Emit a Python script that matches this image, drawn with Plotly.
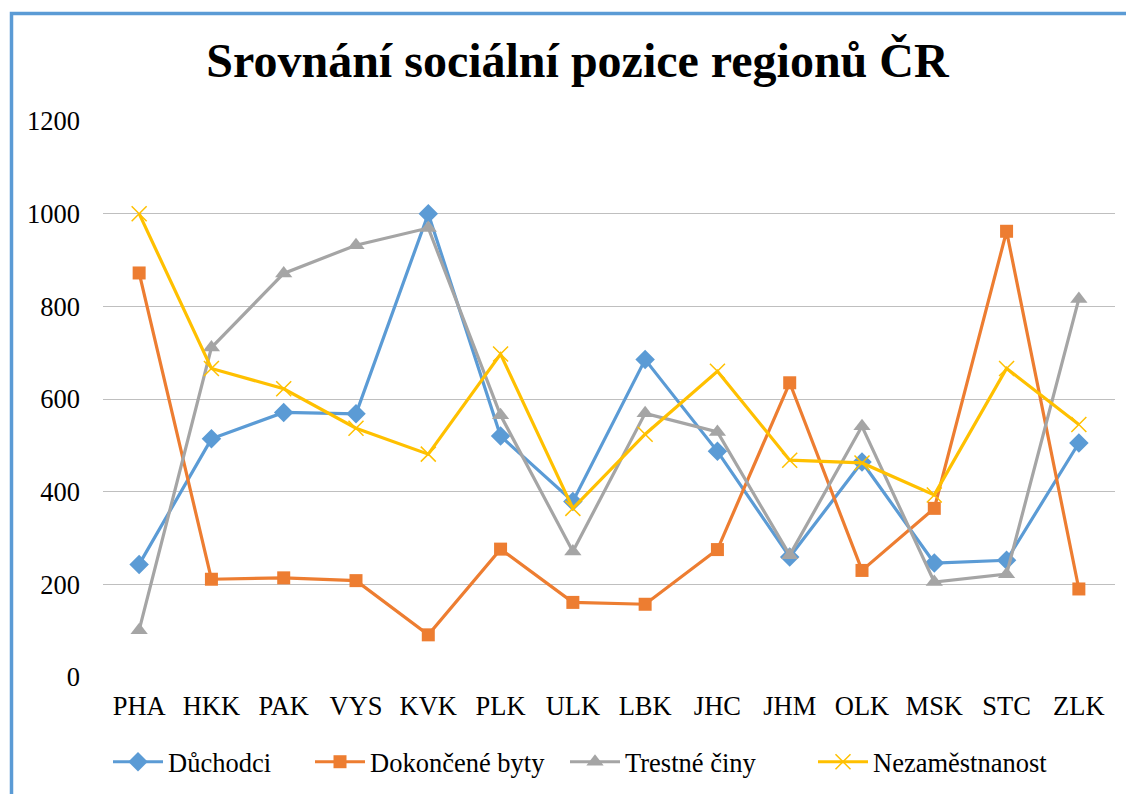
import plotly.graph_objects as go

categories = ["PHA", "HKK", "PAK", "VYS", "KVK", "PLK", "ULK", "LBK", "JHC", "JHM", "OLK", "MSK", "STC", "ZLK"]
duchodci = [243, 514, 571, 568, 1000, 520, 379, 685, 487, 259, 464, 246, 252, 505]
dokoncene_byty = [872, 211, 214, 208, 91, 276, 161, 157, 275, 635, 230, 364, 962, 190]
trestne_ciny = [101, 711, 871, 932, 969, 565, 271, 569, 529, 263, 541, 205, 222, 816]
nezamestnanost = [1000, 666, 622, 537, 481, 697, 364, 524, 660, 468, 462, 393, 666, 545]
y_ticks = [0, 200, 400, 600, 800, 1000, 1200]

FONT = "Liberation Serif, Times New Roman, Times, serif"

OFF = 8  # page body margin
W, H = 1134 - OFF, 794 - OFF
L, R, T, B = 103 - OFF, 19, 121 - OFF, 117
pw, ph = W - L - R, H - T - B

def px_x(p):
    return (p - OFF - L) / pw

def px_y(p):
    return (H - B - (p - OFF)) / ph

series = [
    ("Důchodci", duchodci, "#5B9BD5", dict(symbol="diamond", size=15), 108),
    ("Dokončené byty", dokoncene_byty, "#ED7D31", dict(symbol="square", size=13), 310),
    ("Trestné činy", trestne_ciny, "#A5A5A5", dict(symbol="triangle-up", size=15), 565),
    ("Nezaměstnanost", nezamestnanost, "#FFC000", dict(symbol="x-thin-open", size=15, line=dict(width=1.5)), 813),
]

fig = go.Figure()
legends = {}
for i, (name, vals, color, marker, lx) in enumerate(series):
    m = dict(color=color, **marker)
    if "line" in m:
        m["line"] = dict(color=color, width=marker["line"]["width"])
    lname = "legend" if i == 0 else f"legend{i + 1}"
    fig.add_trace(go.Scatter(
        x=categories, y=vals, name=name, mode="lines+markers", showlegend=True,
        line=dict(color=color, width=3.2), marker=m, legend=lname,
    ))
    legends[lname] = dict(
        orientation="h", x=px_x(lx), xanchor="left", y=px_y(762), yanchor="middle",
        font=dict(family=FONT, size=26.5), itemwidth=50, bgcolor="rgba(0,0,0,0)",
        visible=True,
    )

fig.update_layout(
    width=W, height=H, showlegend=True,
    margin=dict(l=L, r=R, t=T, b=B, autoexpand=False),
    paper_bgcolor="white", plot_bgcolor="white",
    font=dict(family=FONT, size=26.5, color="black"),
    title=dict(
        text="<b>Srovnání sociální pozice regionů ČR</b>",
        font=dict(family=FONT, size=48, color="black"),
        x=(577.5 - OFF) / W, xanchor="center", y=1 - (60 - OFF) / H, yanchor="middle",
    ),
    xaxis=dict(
        type="category", range=[-0.5, 13.5], showgrid=False, showline=False,
        ticks="", tickfont=dict(size=26.5, family=FONT), zeroline=False,
        ticklabelstandoff=10,
    ),
    yaxis=dict(
        range=[0, 1200], tickvals=y_ticks, showgrid=True, gridcolor="#BFBFBF",
        gridwidth=1.2, showline=False, zeroline=False, ticks="",
        tickfont=dict(size=26.5, family=FONT), ticklabelstandoff=22,
    ),
    shapes=[
        dict(type="rect", xref="paper", yref="paper",
             x0=px_x(11.5), x1=px_x(1150), y0=px_y(830), y1=px_y(13.5),
             line=dict(color="#5B9BD5", width=3.5), fillcolor="rgba(0,0,0,0)", layer="below"),
    ],
    **legends,
)

fig.write_html("out.html")
